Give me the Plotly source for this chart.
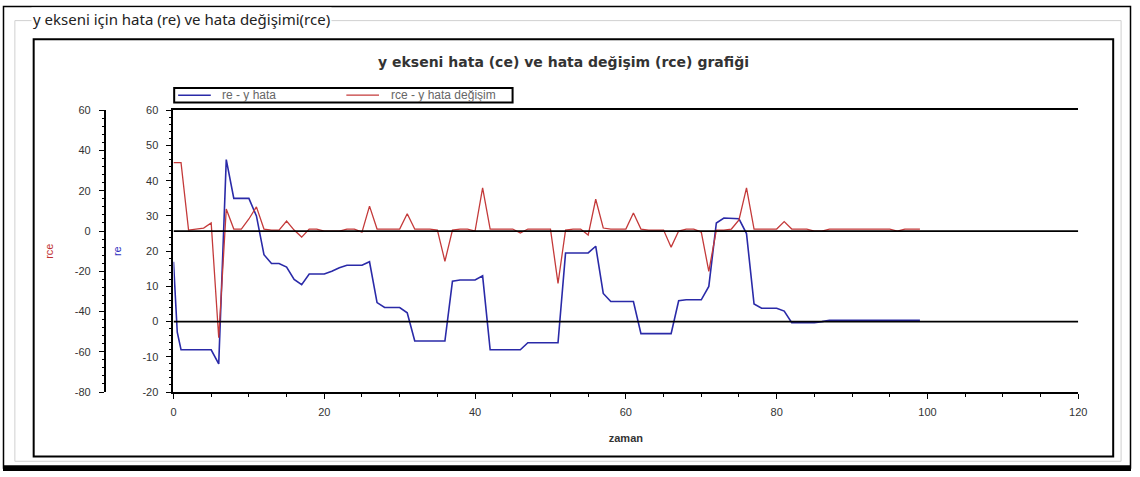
import plotly.graph_objects as go

# Zaman ekseni (s) ve y ekseni hata / hata degisim serileri
zaman = [0, 0.5] + list(range(1, 100))

re_y_hata = [
    17, -3,
    -8, -8, -8, -8, -8, -12, 46, 35, 35, 35,
    30, 19, 16.5, 16.5, 15.5, 12, 10.5, 13.5, 13.5, 13.5,
    14.3, 15.3, 16, 16, 16, 17, 5.4, 4, 4, 4,
    2.5, -5.5, -5.5, -5.5, -5.5, -5.5, 11.5, 11.8, 11.8, 11.8,
    13, -8, -8, -8, -8, -8, -6, -6, -6, -6,
    -6, 19.5, 19.5, 19.5, 19.5, 21.4, 8, 5.7, 5.7, 5.7,
    5.7, -3.4, -3.4, -3.4, -3.4, -3.4, 5.9, 6.2, 6.2, 6.2,
    10, 28, 29.4, 29.4, 29.2, 25, 5, 3.8, 3.8, 3.8,
    3, -0.3, -0.3, -0.3, -0.3, 0, 0.4, 0.4, 0.4, 0.4,
    0.4, 0.4, 0.4, 0.4, 0.4, 0.4, 0.4, 0.4, 0.4,
]

rce_y_hata_degisim = [
    34, 34,
    34, 0.5, 1, 1.5, 4, -53, 11, 1, 1, 6,
    12, 1, 0.5, 0.5, 5, 0.5, -3, 1, 1, 0,
    0, 0, 1, 1, -0.5, 12.4, 1, 1, 1, 1,
    8.6, 1, 1, 1, 0.5, -15, 0.5, 1, 1, 0,
    21.5, 1, 1, 1, 1, -1, 1, 1, 1, 1,
    -26, 0.5, 1, 1, -2, 15.8, 1.5, 1, 1, 1,
    9, 1, 0.5, 0.5, 0.5, -8, 0, 1, 1, -0.5,
    -20, 0.5, 0.5, 1, 5.5, 21.5, 1, 1, 1, 1,
    4.7, 1, 1, 1, 0, 0, 1, 1, 1, 1,
    1, 1, 1, 1, 1, 0, 1, 1, 1,
]

x_ticks = [0, 20, 40, 60, 80, 100, 120]
re_ticks = [-20, -10, 0, 10, 20, 30, 40, 50, 60]
rce_ticks = [-80, -60, -40, -20, 0, 20, 40, 60]

series_names = ["re - y hata", "rce - y hata değişim"]

W, H = 1140, 477
FONT = "Liberation Sans"
TICK_COLOR = "#333333"
BLUE = "#2a2aa8"
RED = "#c43a3a"


def px(x):
    return x / W


def py(y):
    return 1 - y / H


def labels(vals):
    # plain hyphen-minus for negative tick labels
    return [str(v) for v in vals]


fig = go.Figure()
fig.add_trace(go.Scatter(
    x=zaman, y=re_y_hata, mode="lines", name=series_names[0],
    line=dict(color=BLUE, width=1.6), xaxis="x", yaxis="y",
))
fig.add_trace(go.Scatter(
    x=zaman, y=rce_y_hata_degisim, mode="lines", name=series_names[1],
    line=dict(color=RED, width=1.3), xaxis="x", yaxis="y2",
))

x_dom = [px(172.3), px(1086.7)]
y_dom = [py(396), py(107)]

axis_common = dict(showgrid=False, zeroline=False, showline=True,
                   linecolor="black", linewidth=2,
                   tickfont=dict(family=FONT, size=11, color=TICK_COLOR))

fig.update_layout(
    width=W, height=H,
    margin=dict(l=0, r=0, t=0, b=0),
    paper_bgcolor="white", plot_bgcolor="white",
    showlegend=False,
    xaxis=dict(
        axis_common, domain=x_dom, range=[0, 120], anchor="y",
        tickvals=x_ticks, ticktext=labels(x_ticks),
        ticks="outside", ticklen=5, tickcolor="black",
        minor=dict(dtick=5, tick0=0, ticks="outside", ticklen=3, tickcolor="black"),
        mirror=True, ticklabelstandoff=4,
        title=dict(text="<b>zaman</b>", font=dict(family=FONT, size=11, color="#333333"),
                   standoff=17),
    ),
    xaxis2=dict(
        domain=x_dom, range=[0, 120], overlaying="x", anchor="y", side="bottom",
        showgrid=False, zeroline=False, showline=False, showticklabels=False,
        tickvals=x_ticks, ticks="inside", ticklen=5, tickcolor="black", mirror="ticks",
        minor=dict(dtick=5, tick0=0, ticks="inside", ticklen=3, tickcolor="black"),
    ),
    yaxis=dict(
        axis_common, domain=y_dom, range=[-20, 60], anchor="x",
        tickvals=re_ticks, ticktext=labels(re_ticks),
        ticks="outside", ticklen=5, tickcolor="black",
        minor=dict(dtick=2, ticks="outside", ticklen=2, tickcolor="black"),
        ticklabelstandoff=6,
        title=dict(text="re", font=dict(family=FONT, size=11, color="#2f2fc0"), standoff=19),
    ),
    yaxis2=dict(
        axis_common, domain=y_dom, range=[-80, 60], overlaying="y", anchor="free",
        position=px(103), side="left",
        tickvals=rce_ticks, ticktext=labels(rce_ticks),
        ticks="outside", ticklen=5, tickcolor="black",
        minor=dict(dtick=4, ticks="outside", ticklen=2, tickcolor="black"),
        ticklabelstandoff=6,
        title=dict(text="rce", font=dict(family=FONT, size=11, color="#c03030"), standoff=18),
    ),
)

shapes = [
    # outer window edge
    dict(type="rect", xref="paper", yref="paper", x0=px(0.5), x1=px(1139.5), y0=py(474), y1=py(0.5),
         line=dict(color="black", width=1.5)),
    dict(type="rect", xref="paper", yref="paper", x0=0, x1=1, y0=py(477), y1=py(471),
         fillcolor="black", line=dict(width=0)),
    # group box
    dict(type="rect", xref="paper", yref="paper", x0=px(12), x1=px(1130), y0=py(467), y1=py(15),
         line=dict(color="#d0d0d0", width=1)),
    # chart frame
    dict(type="rect", xref="paper", yref="paper", x0=px(31), x1=px(1122), y0=py(462), y1=py(34),
         line=dict(color="black", width=2)),
    # zero reference lines of both value axes, drawn over the series
    dict(type="line", xref="x", yref="y", x0=0, x1=120, y0=0, y1=0,
         line=dict(color="black", width=1.8), layer="above"),
    dict(type="line", xref="x", yref="y2", x0=0, x1=120, y0=0, y1=0,
         line=dict(color="black", width=1.8), layer="above"),
    # legend box
    dict(type="rect", xref="paper", yref="paper", x0=px(173), x1=px(515), y0=py(99), y1=py(84),
         line=dict(color="black", width=2), fillcolor="white"),
    dict(type="line", xref="paper", yref="paper", x0=px(177), x1=px(210), y0=py(91.5), y1=py(91.5),
         line=dict(color=BLUE, width=1.6)),
    dict(type="line", xref="paper", yref="paper", x0=px(347), x1=px(380), y0=py(91.5), y1=py(91.5),
         line=dict(color=RED, width=1.3)),
]
fig.update_layout(shapes=shapes)

legend_text_x = [219, 390]
for name, lx in zip(series_names, legend_text_x):
    fig.add_annotation(
        text=name, xref="paper", yref="paper", x=px(lx), y=py(91.5),
        xanchor="left", yanchor="middle", showarrow=False,
        font=dict(family=FONT, size=12, color="#666666"),
    )

fig.add_annotation(
    text="y ekseni için hata (re) ve hata değişimi(rce)", xref="paper", yref="paper",
    x=px(28), y=py(13), xanchor="left", yanchor="middle", showarrow=False,
    font=dict(family="Noto Sans", size=15, color="#222222"), bgcolor="white",
)
fig.add_annotation(
    text="<b>y ekseni hata (ce) ve hata değişim (rce) grafiği</b>", xref="paper", yref="paper",
    x=px(566), y=py(57), xanchor="center", yanchor="middle", showarrow=False,
    font=dict(family="DejaVu Sans", size=14, color="#333333"),
)

fig.write_html("out.html")
